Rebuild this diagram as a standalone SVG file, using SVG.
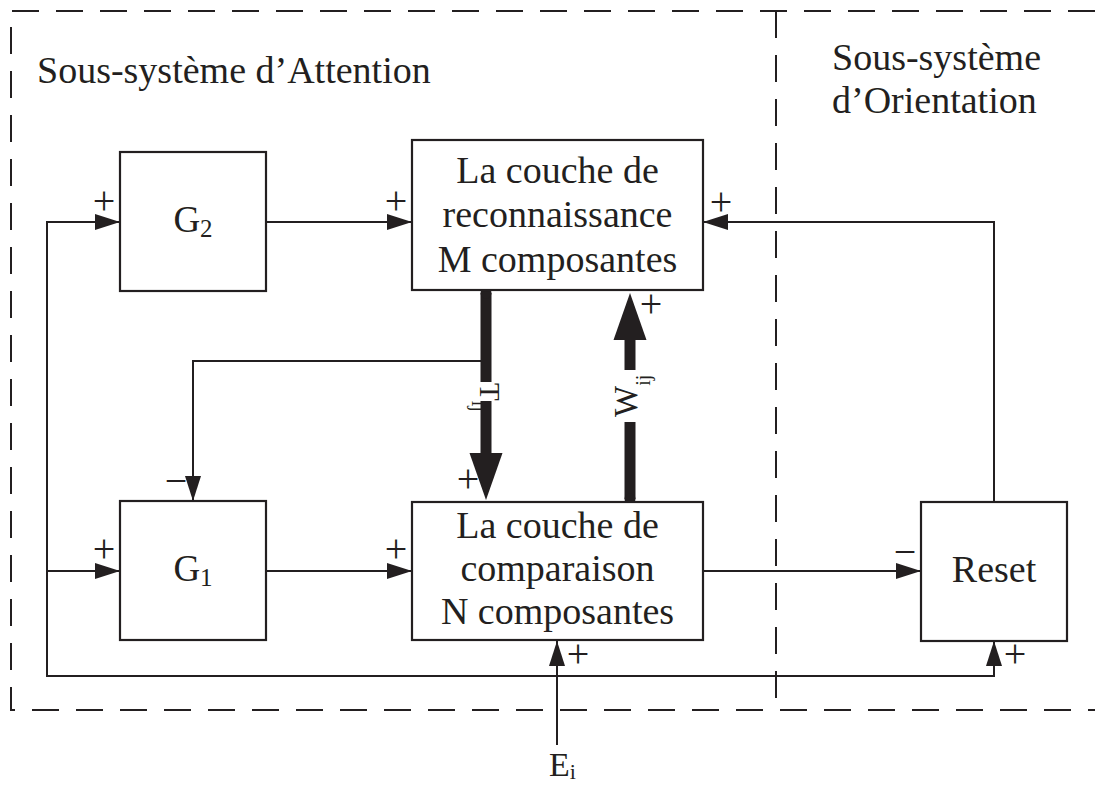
<svg xmlns="http://www.w3.org/2000/svg" width="1095" height="785" viewBox="0 0 1095 785">
  <style>
    .lbl { font-family: "Liberation Serif", "Times New Roman", serif; font-size: 38px; fill: #231f20; }
    .mid { text-anchor: middle; }
    .sign { font-family: "Liberation Serif", "Times New Roman", serif; font-size: 40px; fill: #231f20; text-anchor: middle; }
    .box { fill: #ffffff; stroke: #231f20; stroke-width: 2.2; }
    .wire { fill: none; stroke: #231f20; stroke-width: 2; }
    .bus { fill: none; stroke: #231f20; stroke-width: 11; stroke-linecap: butt; }
    .frame { fill: none; stroke: #231f20; stroke-width: 2; stroke-dasharray: 27 17; }
    .head { fill: #231f20; stroke: none; }
  </style>
  <defs>
    <marker id="arrow" markerUnits="userSpaceOnUse" viewBox="0 0 25 16" refX="25" refY="8" markerWidth="25" markerHeight="16" orient="auto">
      <path d="M0,0 L25,8 L0,16 Z" fill="#231f20"/>
    </marker>
  </defs>

  <rect width="1095" height="785" fill="#ffffff"/>

  <!-- subsystem frames -->
  <g id="frames">
    <path class="frame" d="M1095,11 H11 V710 H1095"/>
    <path class="frame" d="M776,11 V710"/>
    <text class="lbl" x="37" y="83">Sous-système d’Attention</text>
    <text class="lbl" x="832" y="70">Sous-système</text>
    <text class="lbl" x="832" y="113">d’Orientation</text>
  </g>

  <!-- connectors -->
  <g id="connectors">
    <!-- left feedback bus -->
    <path class="wire" d="M120,222 H47 V676 H994 V641" marker-end="url(#arrow)"/>
    <path class="wire" d="M47,222 H120" marker-end="url(#arrow)"/>
    <path class="wire" d="M47,571 H120" marker-end="url(#arrow)"/>
    <!-- gain outputs -->
    <path class="wire" d="M266,222 H412" marker-end="url(#arrow)"/>
    <path class="wire" d="M266,571 H412" marker-end="url(#arrow)"/>
    <!-- comparison to reset -->
    <path class="wire" d="M703,571 H921" marker-end="url(#arrow)"/>
    <!-- reset back to recognition -->
    <path class="wire" d="M994,502 V222 H703" marker-end="url(#arrow)"/>
    <!-- external input -->
    <path class="wire" d="M557,745 V641" marker-end="url(#arrow)"/>
    <!-- branch from top-down weights to G1 -->
    <path class="wire" d="M486,361 H193 V501" marker-end="url(#arrow)"/>

    <!-- top-down weights T -->
    <line class="bus" x1="486" y1="293" x2="486" y2="382"/>
    <circle class="head" cx="486" cy="293" r="5.5"/>
    <line class="bus" x1="486" y1="401" x2="486" y2="454"/>
    <polygon class="head" points="469.5,453 502.5,453 486,500"/>
    <text class="lbl" transform="translate(480,383) rotate(90)" style="font-size:29px">T<tspan style="font-size:20px" dy="8">ij</tspan></text>

    <!-- bottom-up weights W -->
    <line class="bus" x1="630" y1="499" x2="630" y2="422"/>
    <circle class="head" cx="630" cy="499" r="5.5"/>
    <line class="bus" x1="630" y1="370" x2="630" y2="339"/>
    <polygon class="head" points="613.5,340 646.5,340 630,293"/>
    <text class="lbl" transform="translate(637,417) rotate(-90)" style="font-size:33px">W<tspan style="font-size:20px" dy="13">ij</tspan></text>

    <!-- signs -->
    <text class="sign" x="104" y="214">+</text>
    <text class="sign" x="396" y="214">+</text>
    <text class="sign" x="104" y="562">+</text>
    <text class="sign" x="396" y="562">+</text>
    <text class="sign" x="468" y="492">+</text>
    <text class="sign" x="651" y="317">+</text>
    <text class="sign" x="721" y="215">+</text>
    <text class="sign" x="1015" y="667">+</text>
    <text class="sign" x="578" y="667">+</text>
    <text class="sign" x="176" y="494">−</text>
    <text class="sign" x="905" y="565">−</text>

    <text class="lbl" x="549" y="776" style="font-size:34px">E<tspan style="font-size:22px" dy="3">i</tspan></text>
  </g>

  <!-- nodes -->
  <g id="g2">
    <rect class="box" x="120" y="152" width="146" height="139"/>
    <text class="lbl mid" x="193" y="232" style="font-size:37px">G<tspan style="font-size:25px" dy="5">2</tspan></text>
  </g>
  <g id="g1">
    <rect class="box" x="120" y="501" width="146" height="139"/>
    <text class="lbl mid" x="193" y="581" style="font-size:37px">G<tspan style="font-size:25px" dy="5">1</tspan></text>
  </g>
  <g id="recognition">
    <rect class="box" x="412" y="140" width="291" height="150"/>
    <text class="lbl mid" x="557.5" y="183">La couche de</text>
    <text class="lbl mid" x="557.5" y="227">reconnaissance</text>
    <text class="lbl mid" x="557.5" y="272">M composantes</text>
  </g>
  <g id="comparison">
    <rect class="box" x="412" y="502" width="291" height="138"/>
    <text class="lbl mid" x="557.5" y="538">La couche de</text>
    <text class="lbl mid" x="557.5" y="581">comparaison</text>
    <text class="lbl mid" x="557.5" y="624">N composantes</text>
  </g>
  <g id="reset">
    <rect class="box" x="921" y="502" width="146" height="139"/>
    <text class="lbl mid" x="994" y="582">Reset</text>
  </g>
</svg>
